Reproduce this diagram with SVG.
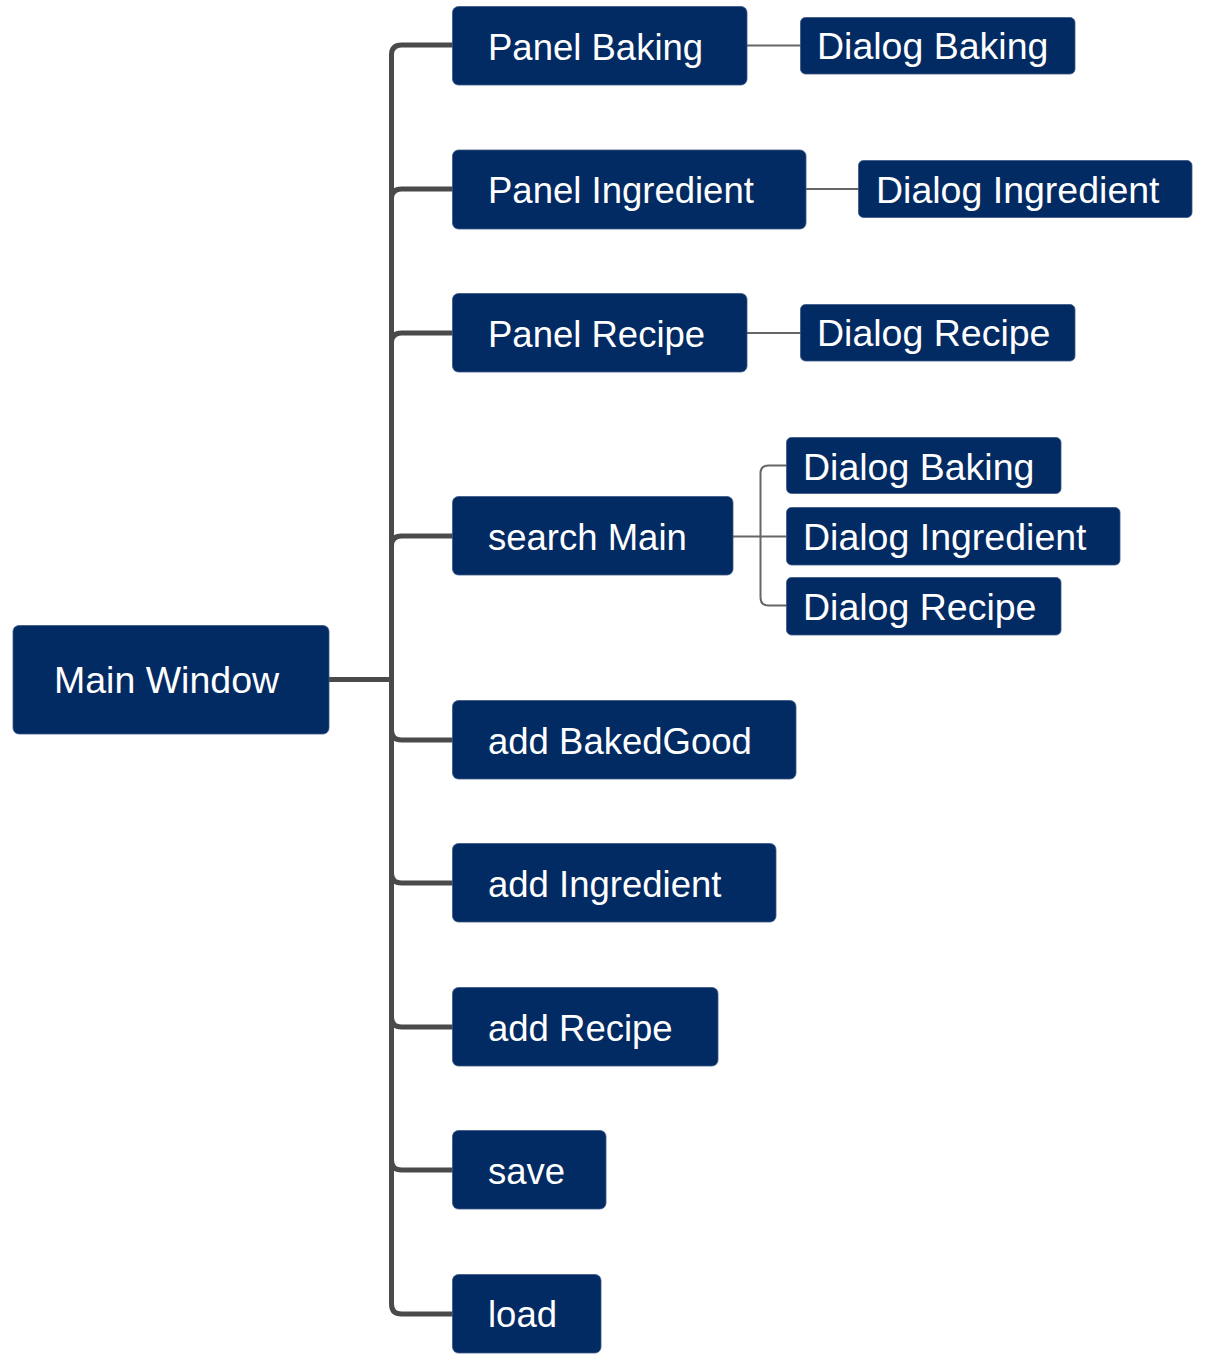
<svg xmlns="http://www.w3.org/2000/svg" width="1229" height="1366" viewBox="0 0 1229 1366">
<style>
.box{fill:#022a63;stroke:#3a5585;stroke-width:0.8}
.t{font-family:"Liberation Sans",Arial,sans-serif;font-size:36.5px;fill:#ffffff}
.d{font-size:37.5px}
.main{stroke:#4a4a4a;stroke-width:5;fill:none}
.sub{stroke:#666666;stroke-width:2;fill:none}
</style>
<rect width="1229" height="1366" fill="#ffffff"/>
<g id="connectors">
<path class="main" d="M329 679.5H391.5"/>
<path class="main" d="M391.5 679.5V55Q391.5 45 401.5 45H453"/>
<path class="main" d="M391.5 679.5V199Q391.5 189 401.5 189H453"/>
<path class="main" d="M391.5 679.5V343Q391.5 333 401.5 333H453"/>
<path class="main" d="M391.5 679.5V546Q391.5 536 401.5 536H453"/>
<path class="main" d="M391.5 679.5V730Q391.5 740 401.5 740H453"/>
<path class="main" d="M391.5 679.5V873Q391.5 883 401.5 883H453"/>
<path class="main" d="M391.5 679.5V1017Q391.5 1027 401.5 1027H453"/>
<path class="main" d="M391.5 679.5V1160Q391.5 1170 401.5 1170H453"/>
<path class="main" d="M391.5 679.5V1304Q391.5 1314 401.5 1314H453"/>
<path class="sub" d="M747 45.5H801"/>
<path class="sub" d="M806 189H859"/>
<path class="sub" d="M747 333H801"/>
<path class="sub" d="M733 536.5H787"/>
<path class="sub" d="M760.5 536.5V473.5Q760.5 465.5 768.5 465.5H787"/>
<path class="sub" d="M760.5 536.5V597.5Q760.5 605.5 768.5 605.5H787"/>
</g>
<g id="node-main"><rect class="box" x="13" y="625.5" width="316" height="108.5" rx="6"/><text class="t d" x="54" y="693">Main Window</text></g>
<g id="node-panel-baking"><rect class="box" x="452.5" y="6.5" width="294.5" height="78.5" rx="6"/><text class="t" x="488" y="60">Panel Baking</text></g>
<g id="node-panel-ingredient"><rect class="box" x="452.5" y="150" width="353.5" height="79" rx="6"/><text class="t" x="488" y="203">Panel Ingredient</text></g>
<g id="node-panel-recipe"><rect class="box" x="452.5" y="293.5" width="294.5" height="78.5" rx="6"/><text class="t" x="488" y="347">Panel Recipe</text></g>
<g id="node-search-main"><rect class="box" x="452.5" y="496.5" width="280.5" height="78.5" rx="6"/><text class="t" x="488" y="550">search Main</text></g>
<g id="node-add-bakedgood"><rect class="box" x="452.5" y="700.5" width="343.5" height="78.5" rx="6"/><text class="t" x="488" y="754">add BakedGood</text></g>
<g id="node-add-ingredient"><rect class="box" x="452.5" y="843.5" width="323.5" height="78.5" rx="6"/><text class="t" x="488" y="897">add Ingredient</text></g>
<g id="node-add-recipe"><rect class="box" x="452.5" y="987.5" width="265.5" height="78.5" rx="6"/><text class="t" x="488" y="1041">add Recipe</text></g>
<g id="node-save"><rect class="box" x="452.5" y="1130.5" width="153.5" height="78.5" rx="6"/><text class="t" x="488" y="1184">save</text></g>
<g id="node-load"><rect class="box" x="452.5" y="1274.5" width="148.5" height="78.5" rx="6"/><text class="t" x="488" y="1327">load</text></g>
<g id="node-dialog-baking-1"><rect class="box" x="800.5" y="17.5" width="274.5" height="56.5" rx="5"/><text class="t d" x="817" y="59">Dialog Baking</text></g>
<g id="node-dialog-ingredient-1"><rect class="box" x="858.5" y="160.5" width="333.5" height="57" rx="5"/><text class="t d" x="876" y="203">Dialog Ingredient</text></g>
<g id="node-dialog-recipe-1"><rect class="box" x="800.5" y="304.5" width="274.5" height="56.5" rx="5"/><text class="t d" x="817" y="346">Dialog Recipe</text></g>
<g id="node-dialog-baking-2"><rect class="box" x="786.5" y="437.5" width="274.5" height="56" rx="5"/><text class="t d" x="803" y="480">Dialog Baking</text></g>
<g id="node-dialog-ingredient-2"><rect class="box" x="786.5" y="507.5" width="333.5" height="57.5" rx="5"/><text class="t d" x="803" y="550">Dialog Ingredient</text></g>
<g id="node-dialog-recipe-2"><rect class="box" x="786.5" y="577.5" width="274.5" height="57.5" rx="5"/><text class="t d" x="803" y="620">Dialog Recipe</text></g>
</svg>
